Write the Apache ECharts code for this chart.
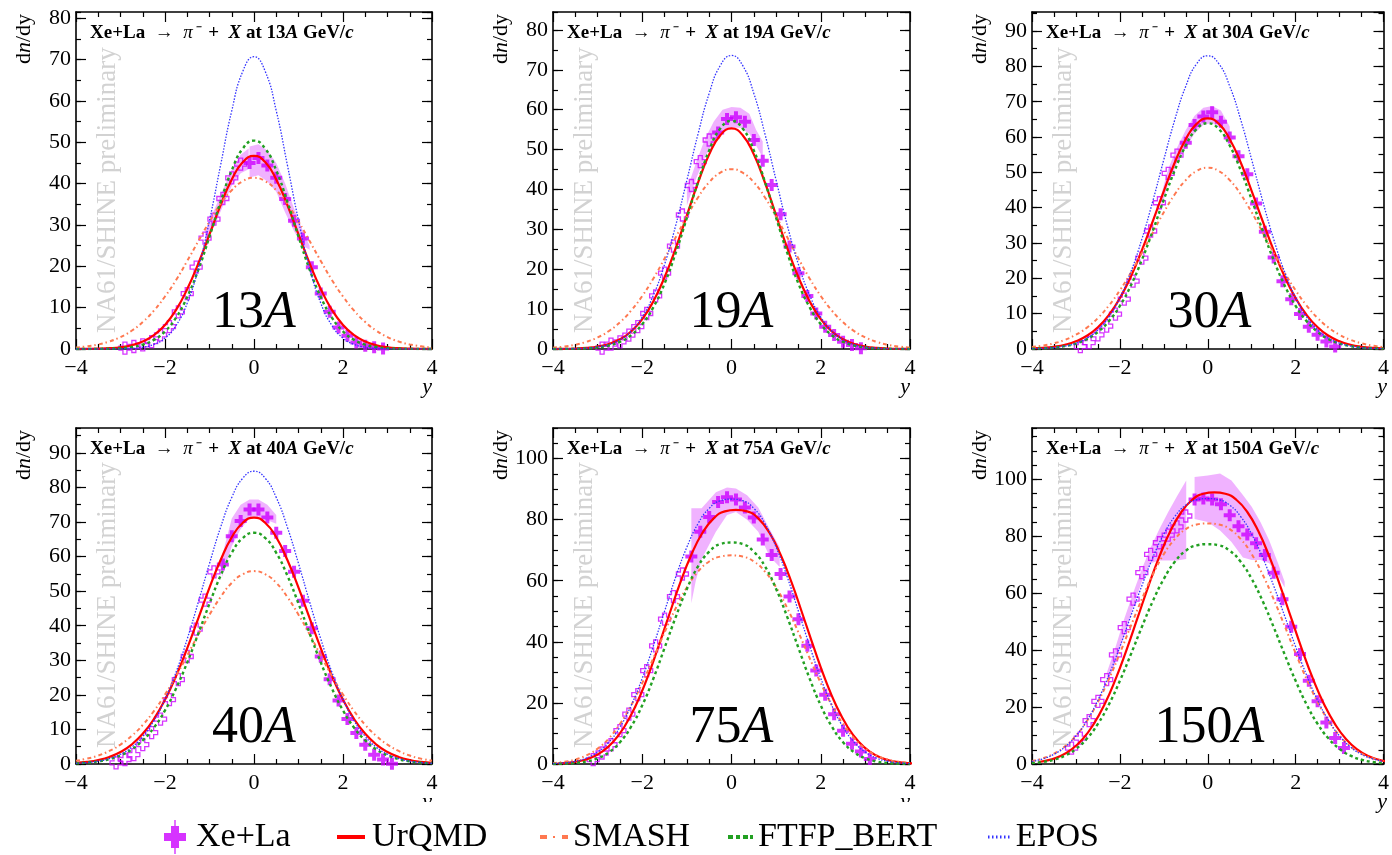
<!DOCTYPE html>
<html><head><meta charset="utf-8">
<script src="https://cdn.jsdelivr.net/npm/echarts@6/dist/echarts.min.js"></script>
<style>html,body{margin:0;padding:0;background:#fff}#c{width:1392px;height:855px}</style>
</head><body><div id="c"></div>
<script>
// ---------- x grid for model curves ----------
const Y_GRID = [-4,-3.75,-3.5,-3.25,-3,-2.75,-2.5,-2.25,-2,-1.75,-1.5,-1.25,-1,-0.75,-0.5,-0.25,0,0.25,0.5,0.75,1,1.25,1.5,1.75,2,2.25,2.5,2.75,3,3.25,3.5,3.75,4];
const Y_GRID_S10 = [-3.9,-3.65,-3.4,-3.15,-2.9,-2.65,-2.4,-2.15,-1.9,-1.65,-1.4,-1.15,-0.9,-0.65,-0.4,-0.15,0.1,0.35,0.6,0.85,1.1,1.35,1.6,1.85,2.1,2.35,2.6,2.85,3.1,3.35,3.6,3.85,4.1];
const Y_GRID_S15 = [-3.85,-3.6,-3.35,-3.1,-2.85,-2.6,-2.35,-2.1,-1.85,-1.6,-1.35,-1.1,-0.85,-0.6,-0.35,-0.1,0.15,0.4,0.65,0.9,1.15,1.4,1.65,1.9,2.15,2.4,2.65,2.9,3.15,3.4,3.65,3.9,4.15];

// ---------- 13A ----------
const pts13_x = [-0.1,0.1,0.3,0.5,0.7,0.9,1.1,1.3,1.5,1.7,1.9,2.1,2.3,2.5,2.7,2.9];
const pts13_v = [45,46.2,44.4,41.4,36.3,31,26.7,19.8,13.4,9,5.2,3.2,1.6,0.8,0.4,0.1];
const refl13_x = [-0.3,-0.5,-0.7,-0.9,-1.1,-1.3,-1.5,-1.7,-1.9,-2.1,-2.3,-2.5,-2.7,-2.9];
const refl13_v = [44.7,41.4,36.4,31.4,26.8,19.8,13.4,9,5.4,3.4,1.8,1,0.6,0.2];
const urqmd13 = [0.01,0.03,0.08,0.19,0.43,0.91,1.8,3.35,5.82,9.48,14.5,20.7,27.7,34.8,41,45.2,46.7,45.2,41,34.8,27.7,20.7,14.5,9.48,5.82,3.35,1.8,0.91,0.43,0.19,0.08,0.03,0.01];
const epos13 = [0,0,0,0.01,0.04,0.14,0.42,1.1,2.64,5.7,11.1,19.6,31.1,44.5,57.6,67.2,70.7,67.2,57.6,44.5,31.1,19.6,11.1,5.7,2.64,1.1,0.42,0.14,0.04,0.01,0,0,0];
const ftfp13 = [0,0.01,0.03,0.08,0.2,0.47,1.06,2.21,4.27,7.6,12.6,19.2,27.2,35.6,43.2,48.5,50.4,48.5,43.2,35.6,27.2,19.2,12.6,7.6,4.27,2.21,1.06,0.47,0.2,0.08,0.03,0.01,0];
const smash13 = [0.36,0.65,1.1,1.82,2.89,4.42,6.52,9.26,12.7,16.7,21.3,26.1,30.8,35.1,38.4,40.6,41.4,40.6,38.4,35.1,30.8,26.1,21.3,16.7,12.7,9.26,6.52,4.42,2.89,1.82,1.1,0.65,0.36];
const band13 = [
  {x:[-1.1,-0.9,-0.7,-0.5,-0.3,-0.12], hi:[28.5,33.5,38.5,43.5,47,48.5], lo:[25.5,29.5,34.5,39.5,42.5,43.5]},
  {x:[-0.1,0.1,0.3,0.5,0.7,0.9,1.1,1.25], hi:[49,49.5,48,45,40,34,28.5,25], lo:[41.5,42,40.5,38,33,28.5,25,24]}
];

// ---------- 19A ----------
const pts19_x = [-0.3,-0.1,0.1,0.3,0.5,0.7,0.9,1.1,1.3,1.5,1.7,1.9,2.1,2.3,2.5,2.7,2.9];
const pts19_v = [54.3,57.7,58.1,57,52.4,47.2,41.1,33.8,25.7,19,13.3,8.9,5.6,3.5,1.8,1,0.2];
const refl19_x = [-0.5,-0.7,-0.9,-1.1,-1.3,-1.5,-1.7,-1.9,-2.1,-2.3,-2.5,-2.7,-2.9];
const refl19_v = [52.4,47,41,33.6,25.8,19,13.3,8.9,5.6,3.5,1.8,1.2,0.2];
const urqmd19 = [0.02,0.05,0.12,0.28,0.61,1.26,2.43,4.4,7.48,12,18,25.3,33.5,41.7,48.8,53.6,55.3,53.6,48.8,41.7,33.5,25.3,18,12,7.48,4.4,2.43,1.26,0.61,0.28,0.12,0.05,0.02];
const epos19 = [0.01,0.03,0.08,0.21,0.5,1.12,2.31,4.45,8.02,13.5,21.2,31,42.3,53.9,64.1,71.1,73.6,71.1,64.1,53.9,42.3,31,21.2,13.5,8.02,4.45,2.31,1.12,0.5,0.21,0.08,0.03,0.01];
const ftfp19 = [0.01,0.02,0.06,0.16,0.39,0.87,1.8,3.46,6.23,10.5,16.4,24.1,32.9,41.9,49.8,55.3,57.2,55.3,49.8,41.9,32.9,24.1,16.4,10.5,6.23,3.46,1.8,0.87,0.39,0.16,0.06,0.02,0.01];
const smash19 = [0.34,0.62,1.07,1.8,2.89,4.49,6.7,9.62,13.3,17.7,22.7,28,33.2,38,41.8,44.2,45.1,44.2,41.8,38,33.2,28,22.7,17.7,13.3,9.62,6.7,4.49,2.89,1.8,1.07,0.62,0.34];
const band19 = [
  {x:[-1.0,-0.8,-0.6,-0.4,-0.2,0,0.2,0.4,0.55,0.7], hi:[40,46.5,52.5,57,60,60.7,60.5,59,55,52], lo:[36,42.5,48,52,54.5,55.5,55.5,54,51,48]}
];

// ---------- 30A ----------
const pts30_x = [-0.5,-0.3,-0.1,0.1,0.3,0.5,0.7,0.9,1.1,1.3,1.5,1.7,1.9,2.1,2.3,2.5,2.7,2.9];
const pts30_v = [58.4,63.4,65.8,67,64.3,59.9,54.6,49.5,41.2,33.2,25.9,19.2,14.1,9.9,6.3,4,2.1,0.7];
const refl30_x = [-0.7,-0.9,-1.1,-1.3,-1.5,-1.7,-1.9,-2.1,-2.3,-2.5,-2.7,-2.9];
const refl30_v = [54.9,49.7,41.4,33.4,25.7,19.2,14.1,9.9,6.5,4,1.8,0.7];
const urqmd30 = [0.15,0.32,0.64,1.2,2.17,3.74,6.14,9.63,14.4,20.5,27.9,36.2,44.7,52.8,59.4,63.8,65.3,63.8,59.4,52.8,44.7,36.2,27.9,20.5,14.4,9.63,6.14,3.74,2.17,1.2,0.64,0.32,0.15];
const epos30 = [0.08,0.18,0.39,0.82,1.63,3.05,5.42,9.1,14.5,21.8,31.1,41.9,53.6,64.9,74.4,80.8,83,80.8,74.4,64.9,53.6,41.9,31.1,21.8,14.5,9.1,5.42,3.05,1.63,0.82,0.39,0.18,0.08];
const ftfp30 = [0.09,0.19,0.41,0.81,1.55,2.81,4.82,7.89,12.2,18,25.2,33.5,42.3,50.6,57.6,62.3,63.9,62.3,57.6,50.6,42.3,33.5,25.2,18,12.2,7.89,4.82,2.81,1.55,0.81,0.41,0.19,0.09];
const smash30 = [0.56,0.96,1.61,2.59,4.03,6.05,8.77,12.3,16.6,21.6,27.2,33,38.7,43.8,47.8,50.4,51.3,50.4,47.8,43.8,38.7,33,27.2,21.6,16.6,12.3,8.77,6.05,4.03,2.59,1.61,0.96,0.56];
const band30 = [
  {x:[-1.05,-0.9,-0.7,-0.5,-0.3,-0.1,0.1,0.3,0.5], hi:[44,51,57,62,66,68.3,68.8,67.5,63], lo:[40,47,52.5,57,61,63.5,64,62.5,60]}
];

// ---------- 40A ----------
const pts40_x = [-0.7,-0.5,-0.3,-0.1,0.1,0.3,0.5,0.7,0.9,1.1,1.3,1.5,1.7,1.9,2.1,2.3,2.5,2.7,2.9,3.1];
const pts40_v = [57.7,65.9,70.3,73.6,73.6,71.3,66.9,61.6,55.6,47.2,39.3,31.1,24.5,18.4,13,9,5.6,2.7,1.3,0.1];
const refl40_x = [-0.9,-1.1,-1.3,-1.5,-1.7,-1.9,-2.1,-2.3,-2.5,-2.7,-2.9,-3.1];
const refl40_v = [55.6,47.4,39,31.1,24.4,18.6,13,9.1,5.6,2.7,1.3,0.3];
const urqmd40 = [0.33,0.63,1.16,2.05,3.47,5.62,8.73,13,18.6,25.5,33.5,42.2,51,59,65.6,69.8,71.3,69.8,65.6,59,51,42.2,33.5,25.5,18.6,13,8.73,5.62,3.47,2.05,1.16,0.63,0.33];
const epos40 = [0.2,0.42,0.82,1.56,2.82,4.85,7.97,12.5,18.7,26.6,36.2,46.9,58,68.5,77.1,82.7,84.7,82.7,77.1,68.5,58,46.9,36.2,26.6,18.7,12.5,7.97,4.85,2.82,1.56,0.82,0.42,0.2];
const ftfp40 = [0.19,0.39,0.76,1.41,2.5,4.22,6.82,10.5,15.5,21.9,29.4,37.8,46.4,54.5,61.1,65.4,66.9,65.4,61.1,54.5,46.4,37.8,29.4,21.9,15.5,10.5,6.82,4.22,2.5,1.41,0.76,0.39,0.19];
const smash40 = [0.94,1.55,2.45,3.77,5.62,8.11,11.3,15.3,20.1,25.5,31.4,37.5,43.2,48.3,52.4,54.9,55.8,54.9,52.4,48.3,43.2,37.5,31.4,25.5,20.1,15.3,11.3,8.11,5.62,3.77,2.45,1.55,0.94];
const band40 = [
  {x:[-0.72,-0.5,-0.3,-0.1,0.1,0.3,0.5], hi:[60,71,75,76.5,76.5,75,72], lo:[54,63,68,71,71.5,70.5,69.5]}
];

// ---------- 75A ----------
const pts75_x = [-0.9,-0.7,-0.5,-0.3,-0.1,0.1,0.3,0.5,0.7,0.9,1.1,1.3,1.5,1.7,1.9,2.1,2.3,2.5,2.7,2.9,3.1];
const pts75_v = [67.9,76,80.9,85.8,87.3,86.6,84,80.7,73.5,68.4,62.2,54.8,47.4,38.7,30.6,22.7,16.3,10.9,6.6,4.1,1.6];
const refl75_x = [-1.1,-1.3,-1.5,-1.7,-1.9,-2.1,-2.3,-2.5,-2.7,-2.9,-3.1];
const refl75_v = [62.2,54.8,47.4,38.7,30.6,22.7,16.3,10.9,6.3,3.6,1.4];
const urqmd75 = [0.17,0.42,0.97,2.06,4.03,7.28,12.2,19,27.7,37.9,48.7,59.3,68.5,75.7,80.4,82.7,83.2,82.7,80.4,75.7,68.5,59.3,48.7,37.9,27.7,19,12.2,7.28,4.03,2.06,0.97,0.42,0.17];
const epos75 = [0.15,0.38,0.9,1.95,3.88,7.11,12.1,19.1,28.1,38.7,50,61.2,71,78.7,83.7,86.2,86.7,86.2,83.7,78.7,71,61.2,50,38.7,28.1,19.1,12.1,7.11,3.88,1.95,0.9,0.38,0.15];
const ftfp75 = [0.04,0.12,0.33,0.83,1.86,3.81,7.11,12.2,19.2,28,38,48.1,57.3,64.7,69.5,72,72.5,72,69.5,64.7,57.3,48.1,38,28,19.2,12.2,7.11,3.81,1.86,0.83,0.33,0.12,0.04];
const smash75 = [0.32,0.72,1.47,2.82,5.02,8.37,13.1,19.2,26.5,34.7,43.1,51,57.8,63,66.3,67.9,68.3,67.9,66.3,63,57.8,51,43.1,34.7,26.5,19.2,13.1,8.37,5.02,2.82,1.47,0.72,0.32];
const band75 = [
  {x:[-0.9,-0.8,-0.67,-0.35,-0.1,0.1,0.35,0.6,0.85,1.08], hi:[83.7,83.7,83.7,89,90.5,90.2,88,84,77,71], lo:[52.6,60,67,76,81.5,82.5,80,76,68,64.5]}
];

// ---------- 150A ----------
const pts150_x = [-0.3,-0.1,0.1,0.3,0.5,0.7,0.9,1.1,1.3,1.5,1.7,1.9,2.1,2.3,2.5,2.7,2.9,3.1];
const pts150_v = [92.9,93.2,92.9,91.2,87.4,83.5,80.6,77.5,73.4,67.2,57.9,48.2,38.6,29.2,22,14.6,9.1,5.6];
const refl150_x = [-0.5,-0.7,-0.9,-1.1,-1.3,-1.5,-1.7,-1.9,-2.1,-2.3,-2.5,-2.7,-2.9,-3.1];
const refl150_v = [87.1,83.3,80.4,77.7,73.6,67.2,57.9,47.9,38.3,29.6,22,15.2,9.1,5.6];
const urqmd150 = [0.7,1.45,2.8,5.11,8.69,13.9,20.9,29.7,40,51.2,62.5,72.9,81.8,88.5,92.8,94.9,95.4,94.9,92.8,88.5,81.8,72.9,62.5,51.2,40,29.7,20.9,13.9,8.69,5.11,2.8,1.45,0.7];
const epos150 = [0.92,1.84,3.42,5.98,9.85,15.3,22.4,31.2,41.2,52,62.6,72.5,80.7,86.9,90.9,92.8,93.2,92.8,90.9,86.9,80.7,72.5,62.6,52,41.2,31.2,22.4,15.3,9.85,5.98,3.42,1.84,0.92];
const ftfp150 = [0.31,0.71,1.5,2.92,5.29,8.93,14.1,20.9,29.2,38.5,48.1,57.2,65,71,74.9,76.8,77.2,76.8,74.9,71,65,57.2,48.1,38.5,29.2,20.9,14.1,8.93,5.29,2.92,1.5,0.71,0.31];
const smash150 = [1.05,2.01,3.64,6.19,9.95,15.1,21.8,29.8,38.9,48.5,57.9,66.5,73.7,79,82.5,84.1,84.5,84.1,82.5,79,73.7,66.5,57.9,48.5,38.9,29.8,21.8,15.1,9.95,6.19,3.64,2.01,1.05];
const band150 = [
  {x:[-2.3,-2.1,-1.9,-1.7,-1.5,-1.3,-1.1,-0.9,-0.7,-0.49], hi:[32,41,51,60,68.5,76,82.5,88.5,94,99.6], lo:[28,35.5,45,55,64,70.5,71.5,71.5,71.5,72]},
  {x:[-0.3,0,0.28,0.54,0.8,1.0,1.2,1.4,1.6,1.75], hi:[100.8,101.3,102,99.6,94.5,90.3,85,78.5,70.5,64], lo:[86,85,82,78,72.5,71.6,71.6,70.5,66,62]}
];

// ---------- axis tick settings ----------
const energyLabels = ['13','19','30','40','75','150'];
const yMaxes = [81.5, 84.5, 95.4, 97.2, 110, 118];
const yMajor = [10, 10, 10, 10, 20, 20];
const yMinor = [5, 5, 5, 5, 5, 5];

const panelData = [
  {pts:[pts13_x,pts13_v], refl:[refl13_x,refl13_v], urqmd:[Y_GRID,urqmd13], smash:smash13, ftfp:ftfp13, epos:epos13, band:band13},
  {pts:[pts19_x,pts19_v], refl:[refl19_x,refl19_v], urqmd:[Y_GRID,urqmd19], smash:smash19, ftfp:ftfp19, epos:epos19, band:band19},
  {pts:[pts30_x,pts30_v], refl:[refl30_x,refl30_v], urqmd:[Y_GRID,urqmd30], smash:smash30, ftfp:ftfp30, epos:epos30, band:band30},
  {pts:[pts40_x,pts40_v], refl:[refl40_x,refl40_v], urqmd:[Y_GRID,urqmd40], smash:smash40, ftfp:ftfp40, epos:epos40, band:band40},
  {pts:[pts75_x,pts75_v], refl:[refl75_x,refl75_v], urqmd:[Y_GRID_S10,urqmd75], smash:smash75, ftfp:ftfp75, epos:epos75, band:band75},
  {pts:[pts150_x,pts150_v], refl:[refl150_x,refl150_v], urqmd:[Y_GRID_S15,urqmd150], smash:smash150, ftfp:ftfp150, epos:epos150, band:band150}
];

// ---------- layout ----------
const LAYOUT = [
  {L:76, T:12, W:356, H:337}, {L:553, T:12, W:357, H:337}, {L:1032, T:12, W:355, H:337},
  {L:76, T:428, W:356, H:336}, {L:553, T:428, W:357, H:336}, {L:1032, T:428, W:355, H:336}
];
const SERIF = 'Liberation Serif';
const C_DATA = '#cc00ff', C_URQMD = '#ff0000', C_SMASH = '#ff7850', C_FTFP = '#22a022', C_EPOS = '#3333ff';
const PLUS = 'path://M4,0H8V4H12V8H8V12H4V8H0V4H4Z';
const zip = (xs, vs) => xs.map((x, k) => [x, vs[k]]);
const minus = v => (v < 0 ? '\u2212' + (-v) : String(v));
const rs = (size, extra) => Object.assign({fontFamily:SERIF, fontSize:size, fill:'#000'}, extra || {});
const rsAxis = {fontFamily:SERIF, fontSize:22, color:'#000'};

const grids = [], xAxes = [], yAxes = [], series = [], graphics = [];
const frameLine = {show:true, onZero:false, lineStyle:{color:'#000', width:1.6}};
const tickStyle = {color:'#000', width:1.2};

LAYOUT.forEach((g, i) => {
  grids.push({left:g.L, top:g.T, width:g.W, height:g.H, containLabel:false});
  ['bottom','top'].forEach(pos => {
    xAxes.push({
      gridIndex:i, type:'value', min:-4, max:4, interval:2, position:pos,
      axisLine:frameLine,
      axisTick:{show:true, inside:true, length:10, lineStyle:tickStyle},
      minorTick:{show:true, splitNumber:4, length:5, lineStyle:tickStyle},
      axisLabel:{show:pos==='bottom', formatter:v => '{s|' + minus(v) + '}', rich:{s:rsAxis},
        fontFamily:SERIF, fontSize:22, color:'#000', margin:8},
      splitLine:{show:false}, minorSplitLine:{show:false}
    });
  });
  ['left','right'].forEach(pos => {
    yAxes.push({
      gridIndex:i, type:'value', min:0, max:yMaxes[i], interval:yMajor[i], position:pos,
      axisLine:frameLine,
      axisTick:{show:true, inside:true, length:10, lineStyle:tickStyle},
      axisLabel:{show:pos==='left', showMaxLabel:false, formatter:v => '{s|' + v + '}', rich:{s:rsAxis},
        fontFamily:SERIF, fontSize:22, color:'#000', margin:5},
      splitLine:{show:false}
    });
    yAxes.push({
      gridIndex:i, type:'value', min:0, max:yMaxes[i], interval:yMinor[i], position:pos,
      axisLine:{show:false, onZero:false},
      axisTick:{show:true, inside:true, length:5, lineStyle:tickStyle},
      axisLabel:{show:false}, splitLine:{show:false}
    });
  });
  const xi = 2 * i, yi = 4 * i;
  const d = panelData[i];
  const bands = d.band;
  series.push({
    type:'custom', name:'syst', xAxisIndex:xi, yAxisIndex:yi, z:1, silent:true, clip:true,
    data: bands.map(s => [s.x[0], s.hi[0]]),
    renderItem: (params, api) => {
      const s = bands[params.dataIndex];
      const pts = [];
      s.x.forEach((x, k) => pts.push(api.coord([x, s.hi[k]])));
      for (let k = s.x.length - 1; k >= 0; k--) pts.push(api.coord([s.x[k], s.lo[k]]));
      return {type:'polygon', shape:{points:pts}, style:{fill:'rgba(204,0,255,0.3)'}};
    }
  });
  series.push({
    type:'scatter', name:'Xe+La', xAxisIndex:xi, yAxisIndex:yi, z:3, silent:true,
    symbol:PLUS, symbolSize:12, itemStyle:{color:C_DATA},
    data: zip(d.pts[0], d.pts[1])
  });
  series.push({
    type:'scatter', name:'Xe+La', xAxisIndex:xi, yAxisIndex:yi, z:3, silent:true,
    symbol:PLUS, symbolSize:12, itemStyle:{color:'rgba(255,255,255,0)', borderColor:C_DATA, borderWidth:1.3},
    data: zip(d.refl[0], d.refl[1])
  });
  const lines = [
    ['UrQMD', d.urqmd[0], d.urqmd[1], C_URQMD, 'solid', 2.2],
    ['SMASH', Y_GRID, d.smash, C_SMASH, [4,3,1.5,3], 2],
    ['FTFP_BERT', Y_GRID, d.ftfp, C_FTFP, [3,3], 2.4],
    ['EPOS', Y_GRID, d.epos, C_EPOS, [1.5,1.5], 1.3]
  ];
  lines.forEach(([name, xs, vs, col, type, w]) => {
    series.push({
      type:'line', name, xAxisIndex:xi, yAxisIndex:yi, z:4, silent:true, smooth:true,
      showSymbol:false, symbol:'none', clip:true,
      itemStyle:{color:col}, lineStyle:{color:col, type, width:w},
      data: zip(xs, vs)
    });
  });

  // texts
  const e = energyLabels[i];
  graphics.push({
    type:'text', x:g.L - 52, y:g.T + 2, rotation:Math.PI / 2, z:1,
    style:{text:'{r|d}{i|n}{r|/dy}', align:'right', verticalAlign:'middle',
      rich:{r:rs(22), i:rs(22, {fontStyle:'italic'})}}
  });
  graphics.push({
    type:'text', x:g.L + 32, y:g.T + g.H - 16, rotation:Math.PI / 2, z:0,
    style:{text:'{w|NA61/SHINE preliminary}', align:'left', verticalAlign:'middle',
      rich:{w:rs(27, {fill:'#d2d2d2'})}}
  });
  graphics.push({
    type:'text', x:g.L + 14, y:g.T + 21, z:1,
    style:{
      text:'{b|Xe+La  }{r|\u2192}{b|  }{p|\u03c0\u207b}{b|  +  }{bi|X}{b| at ' + e + '}{bi|A}{b| GeV/}{bi|c}',
      align:'left', verticalAlign:'middle',
      rich:{
        b:rs(19, {fontWeight:'bold'}),
        bi:rs(19, {fontWeight:'bold', fontStyle:'italic'}),
        r:rs(19),
        p:rs(19, {fontStyle:'italic'})
      }
    }
  });
  graphics.push({
    type:'text', x:g.L + g.W / 2, y:g.T + g.H - 36, z:0,
    style:{text:'{n|' + e + '}{a|A}', align:'center', verticalAlign:'middle',
      rich:{n:rs(52), a:rs(52, {fontStyle:'italic'})}}
  });
  graphics.push({
    type:'text', x:g.L + g.W, y:g.T + g.H + 38, z:1,
    style:{text:'{y|y}', align:'right', verticalAlign:'middle', rich:{y:rs(22, {fontStyle:'italic'})}}
  });
});
// legend pad covering the lower left part (hides the lower-left y titles)
graphics.push({type:'rect', z:2, shape:{x:0, y:802, width:925, height:53}, style:{fill:'#fff'}});

const mkLeg = (name, icon, left, w, h, pad) => ({
  data:[{name, icon}], left, top:817, itemWidth:w, itemHeight:h, padding:0, selectedMode:false, z:10,
  formatter: n => '{t|' + n + '}',
  textStyle:{fontFamily:SERIF, fontSize:34, color:'#000', lineHeight:40, padding:[0,0,0,pad],
    rich:{t:{fontFamily:SERIF, fontSize:34, color:'#000', lineHeight:40}}}
});
const legends = [
  mkLeg('Xe+La', 'path://M10.3,0H11.7V6H15V13H22V21H15V28H11.7V34H10.3V28H7V21H0V13H7V6H10.3Z', 164, 22, 34, 5),
  mkLeg('UrQMD', 'rect', 337, 28, 4, 2),
  mkLeg('SMASH', 'path://M0,0H7V4H0Z M13,1H15V3H13Z M22,0H28V4H22Z', 540, 28, 4, 0),
  mkLeg('FTFP_BERT', 'path://M0,0H5V4H0Z M8,0H12V4H8Z M15,0H20V4H15Z M22,0H25V4H22Z', 728, 25, 4, 0),
  mkLeg('EPOS', 'path://M0,0H1.5V3H0Z M4,0H5.5V3H4Z M8,0H9.5V3H8Z M12,0H13.5V3H12Z M16,0H17.5V3H16Z M20,0H21.5V3H20Z', 988, 22, 3, 1)
];

const chart = echarts.init(document.getElementById('c'), null, {renderer:'canvas'});
chart.setOption({
  animation:false,
  backgroundColor:'#fff',
  textStyle:{fontFamily:SERIF},
  grid:grids, xAxis:xAxes, yAxis:yAxes, series, legend:legends,
  graphic:{elements:graphics}
});
</script></body></html>
